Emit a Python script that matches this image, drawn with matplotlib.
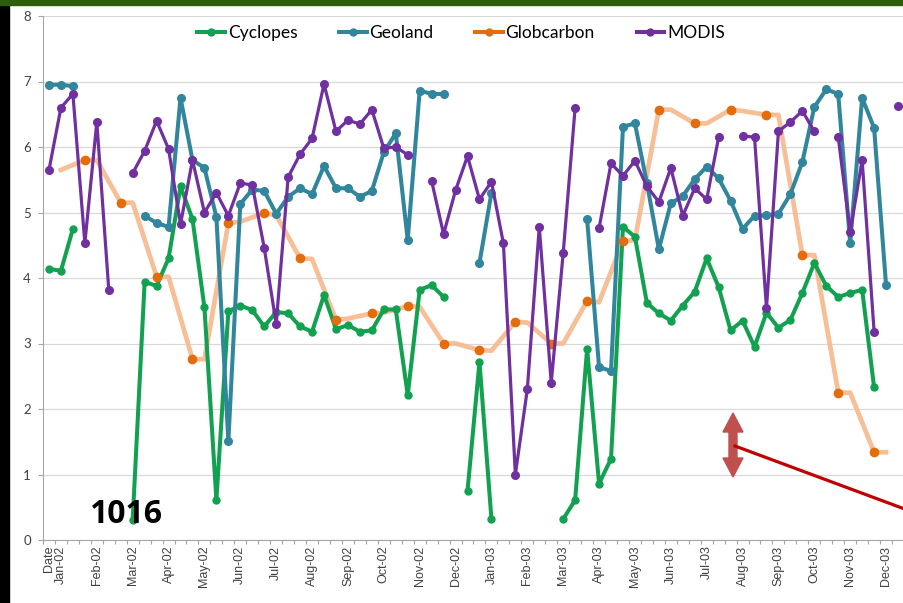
import numpy as np
import matplotlib
matplotlib.use("Agg")
import matplotlib.pyplot as plt
from matplotlib.lines import Line2D
from matplotlib.patches import Polygon, Rectangle

nan = np.nan

# dekadal LAI values, 3 per month, Jan-02 .. Dec-03
cyclopes = [
    4.14, 4.11, 4.75, nan, nan, nan, nan, 0.31, 3.94, 3.88, 4.30, 5.40,
    4.90, 3.55, 0.61, 3.49, 3.58, 3.51, 3.26, 3.48, 3.46, 3.26, 3.18, 3.74,
    3.22, 3.28, 3.18, 3.20, 3.52, 3.52, 2.21, 3.82, 3.89, 3.71, nan, 0.75,
    2.72, 0.32, nan, nan, nan, nan, nan, 0.32, 0.61, 2.92, 0.86, 1.24,
    4.78, 4.63, 3.62, 3.46, 3.35, 3.58, 3.79, 4.30, 3.86, 3.20, 3.35, 2.95,
    3.47, 3.24, 3.36, 3.77, 4.23, 3.88, 3.71, 3.77, 3.82, 2.33, nan, nan,
]
geoland = [
    6.95, 6.95, 6.93, nan, nan, nan, nan, nan, 4.95, 4.84, 4.78, 6.75,
    5.80, 5.68, 4.93, 1.51, 5.13, 5.35, 5.33, 4.98, 5.24, 5.37, 5.28, 5.71,
    5.37, 5.37, 5.24, 5.33, 5.92, 6.21, 4.58, 6.86, 6.81, 6.81, nan, nan,
    4.23, 5.30, nan, nan, nan, nan, nan, nan, nan, 4.90, 2.64, 2.58,
    6.31, 6.36, 5.45, 4.44, 5.14, 5.25, 5.51, 5.70, 5.52, 5.18, 4.75, 4.95,
    4.96, 4.98, 5.28, 5.77, 6.61, 6.88, 6.81, 4.53, 6.75, 6.29, 3.89, nan,
]
globcarbon = [
    nan, 5.65, nan, 5.80, 5.80, nan, 5.15, 5.15, nan, 4.02, 4.02, nan,
    2.76, 2.76, nan, 4.84, 4.86, nan, 4.99, 4.96, nan, 4.30, 4.29, nan,
    3.36, 3.38, nan, 3.46, 3.47, nan, 3.57, 3.56, nan, 3.00, 3.00, nan,
    2.90, 2.89, nan, 3.33, 3.32, nan, 3.00, 3.00, nan, 3.65, 3.63, nan,
    4.56, 4.58, nan, 6.57, 6.57, nan, 6.36, 6.36, nan, 6.57, 6.55, nan,
    6.49, 6.49, nan, 4.35, 4.35, nan, 2.25, 2.25, nan, 1.34, 1.34, nan,
]
modis = [
    5.65, 6.60, 6.81, 4.53, 6.38, 3.82, nan, 5.60, 5.94, 6.40, 5.97, 4.82,
    5.80, 5.00, 5.30, 4.95, 5.45, 5.42, 4.46, 3.30, 5.54, 5.89, 6.13, 6.96,
    6.24, 6.41, 6.35, 6.57, 5.98, 6.00, 5.88, nan, 5.48, 4.67, 5.34, 5.86,
    5.20, 5.47, 4.53, 1.00, 2.30, 4.78, 2.40, 4.38, 6.60, nan, 4.76, 5.75,
    5.56, 5.79, 5.40, 5.16, 5.68, 4.95, 5.37, 5.20, 6.15, nan, 6.17, 6.15,
    3.54, 6.24, 6.38, 6.55, 6.24, nan, 6.15, 4.70, 5.80, 3.18, nan, 6.63,
]
months = ["Jan", "Feb", "Mar", "Apr", "May", "Jun",
          "Jul", "Aug", "Sep", "Oct", "Nov", "Dec"]
years = ["02", "03"]
site_id = "1016"

C_CYC = "#12A150"
C_GEO = "#31859C"
C_GLOB = "#E46C0A"
C_GLOB_LINE = "#F6B88C"
C_MOD = "#7030A0"

W, H = 904, 603


def fx(px):
    return px / W


def fy(py):
    return 1 - py / H


fig = plt.figure(figsize=(W / 100, H / 100), dpi=100)
fig.patch.set_facecolor("white")

# frame strips around the slide
fig.patches.append(Rectangle((0, 0), fx(9), 1, transform=fig.transFigure,
                             color="black", zorder=0))
fig.patches.append(Rectangle((0, fy(5)), 1, 5 / H, transform=fig.transFigure,
                             color="#2E5E0C", zorder=1))

ax = fig.add_axes([fx(43), fy(540), 1 - fx(43), (540 - 16) / H])

n = len(cyclopes)
x = np.arange(n)

glob = np.array(globcarbon)
ok = ~np.isnan(glob)
ax.plot(x[ok], glob[ok], color=C_GLOB_LINE, lw=3.4, alpha=0.9,
        solid_joinstyle="round", zorder=2)

ax.plot(x, cyclopes, color=C_CYC, lw=2.9, marker="o", ms=5, zorder=3)
ax.plot(x, geoland, color=C_GEO, lw=2.9, marker="o", ms=5.5, zorder=4)

mk = x % 3 == 0
ax.plot(x[mk], glob[mk], ls="none", marker="o", ms=6, color=C_GLOB, zorder=5)

ax.plot(x, modis, color=C_MOD, lw=2.3, marker="o", ms=5.5, zorder=6)

ax.set_xlim((43 - 48) / 11.986, (904 - 48) / 11.986)
ax.set_ylim(0, 8)

ax.set_yticks(range(9))
ax.tick_params(axis="y", length=3.6, width=0.8, color="#A6A6A6", pad=5,
               labelsize=9.5, labelcolor="#404040")
for t in ax.get_yticklabels():
    t.set_family("Lato")
ax.grid(axis="y", color="#D9D9D9", lw=0.9, zorder=0)

# tick marks between dekads, month labels on the middle dekad
ax.set_xticks(np.arange(-0.5, n + 0.5, 1))
ax.set_xticklabels([])
ax.tick_params(axis="x", which="major", length=3, width=0.8, color="#A6A6A6")
lab_pos = [0] + [1 + 3 * k for k in range(24)]
lab_txt = ["Date"] + [f"{m}-{y}" for y in years for m in months]
ax.set_xticks(lab_pos, lab_txt, minor=True)
ax.tick_params(axis="x", which="minor", length=0, pad=4, labelrotation=90,
               labelsize=9, labelcolor="#404040")
for t in ax.get_xticklabels(minor=True):
    t.set_family("Liberation Sans")

for s in ["top", "right"]:
    ax.spines[s].set_visible(False)
for s in ["left", "bottom"]:
    ax.spines[s].set_color("#A6A6A6")
    ax.spines[s].set_linewidth(0.8)

handles = [
    Line2D([], [], color=C_CYC, lw=2.9, marker="o", ms=5),
    Line2D([], [], color=C_GEO, lw=2.9, marker="o", ms=5),
    Line2D([], [], color=C_GLOB, lw=2.9, marker="o", ms=5),
    Line2D([], [], color=C_MOD, lw=2.9, marker="o", ms=5),
]
fig.legend(handles, ["Cyclopes", "Geoland", "Globcarbon", "MODIS"],
           loc="center", bbox_to_anchor=(fx(461), fy(33)), ncol=4,
           frameon=False, handlelength=1.6, handletextpad=0.15,
           columnspacing=2.4, prop={"family": "Lato", "size": 12.5})

fig.text(fx(89), fy(523), site_id, fontsize=23, fontweight="bold",
         family="Open Sans", va="baseline", ha="left")

# double-headed marker and pointer line
cx = 733
arrow = [(cx, 413), (cx + 10, 432), (cx + 4, 432), (cx + 4, 458),
         (cx + 10, 458), (cx, 477), (cx - 10, 458), (cx - 4, 458),
         (cx - 4, 432), (cx - 10, 432)]
fig.patches.append(Polygon([(fx(a), fy(b)) for a, b in arrow], closed=True,
                           transform=fig.transFigure, color="#C0504D",
                           zorder=10))
fig.lines.append(Line2D([fx(735), fx(910)], [fy(446), fy(511)],
                        transform=fig.transFigure, color="#C00000", lw=2.3,
                        zorder=11))

fig.savefig("out.png", dpi=100)
